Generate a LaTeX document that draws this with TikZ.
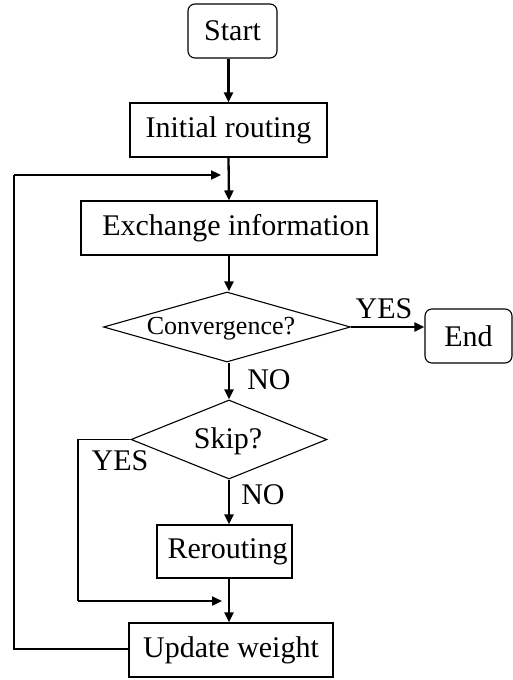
\documentclass[tikz,border=0pt]{standalone}
\usepackage{fontspec}
\setmainfont{Liberation Serif}
\usetikzlibrary{shapes.geometric,arrows.meta}
\begin{document}
\begin{tikzpicture}[x=1pt,y=-1pt,
  box/.style={draw,line width=1.1pt,rectangle,inner sep=0pt,font=\fontsize{30}{32}\selectfont},
  term/.style={box,rounded corners=7pt},
  dia/.style={draw,line width=1.1pt,diamond,inner sep=0pt,font=\fontsize{30}{32}\selectfont},
  lab/.style={inner sep=0pt,font=\fontsize{30}{32}\selectfont},
  arr/.style={line width=2.3pt,-{Triangle[length=10pt,width=9pt]}},
  thinline/.style={line width=1.1pt}]
\useasboundingbox (0,0) rectangle (513,680);
\node[term,minimum width=89pt,minimum height=54pt] (start) at (232.5,31) {Start};
\node[box,minimum width=197pt,minimum height=54pt] (init) at (228.5,130) {Initial routing};
\node[box,minimum width=296pt,minimum height=54pt] (exch) at (229,228) {\hspace*{14pt}Exchange information};
\node[dia,aspect=3.51,minimum width=247pt,minimum height=70pt] (conv) at (227,327) {};
\node[lab,font=\fontsize{26}{28}\selectfont] (convt) at (221,329) {Convergence?};
\node[term,minimum width=87pt,minimum height=54pt] (end) at (468.5,336) {End};
\node[dia,aspect=2.48,minimum width=196pt,minimum height=79pt] (skip) at (229,439.5) {};
\node[lab] (skipt) at (228,441) {Skip?};
\node[box,minimum width=135pt,minimum height=53pt] (rer) at (224.5,551.5) {\hspace*{6pt}Rerouting};
\node[box,minimum width=204pt,minimum height=54pt] (upd) at (231,650) {Update weight};
\node[lab] (yes1) at (384,309) {YES};
\node[lab] (no1) at (269,380) {NO};
\node[lab] (yes2) at (120,461) {YES};
\node[lab] (no2) at (263,495) {NO};
\coordinate (loopbl) at (14,649);
\coordinate (looptl) at (14,175);
\coordinate (loopend) at (221,175);
\coordinate (skipl) at (78,439.5);
\coordinate (skipb) at (78,601);
\coordinate (skipend) at (222,601);
\draw[arr] (init.north |- start.south) -- (init.north);
\draw[arr] (init.south) -- (exch.north);
\draw[arr] (exch.south) -- (exch.south |- conv.north);
\draw[arr] (conv.east) -- (conv.east -| end.west);
\draw[arr] (skip.north |- conv.south) -- (skip.north);
\draw[arr] (skip.south) -- (skip.south |- rer.north);
\draw[arr] (rer.south -| upd.north) ++(-2,0) -- ([xshift=-2pt]upd.north);
\draw[thinline] (upd.west |- loopbl) -- (loopbl) -- (looptl);
\draw[arr] ([xshift=-0.5pt]looptl) -- (loopend);
\draw[thinline] (skip.west) -- (skipl) -- (skipb);
\draw[arr] ([xshift=-0.5pt]skipb) -- (skipend);
\end{tikzpicture}
\end{document}
